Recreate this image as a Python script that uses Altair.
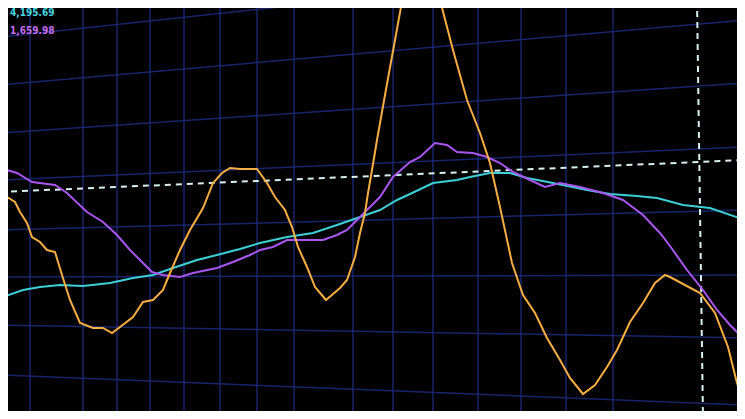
import altair as alt
import pandas as pd

# ---- series (x = time position, y = screen level; smaller y = higher) ----
orange_x = [0, 7, 15, 20, 27, 32, 40, 47, 55, 62, 70, 80, 93, 103, 112, 120, 133, 143, 153, 163,
            170, 180, 190, 203, 213, 222, 230, 240, 257, 267, 275, 285, 292, 298, 307, 315, 326,
            340, 347, 355, 360, 365, 368, 372, 377, 385, 395, 405, 412, 420, 428, 435, 440, 453,
            467, 480, 490, 500, 512, 523, 535, 547, 560, 570, 583, 595, 607, 617, 630, 643, 655,
            665, 670, 700, 715, 728, 737, 745]
orange_y = [193, 197, 202, 212, 223, 237, 242, 250, 252, 275, 300, 323, 328, 328, 333, 327, 317,
            302, 300, 290, 273, 250, 230, 208, 183, 173, 168, 169, 169, 183, 197, 210, 227, 247,
            267, 287, 300, 288, 280, 257, 233, 213, 193, 170, 140, 95, 40, -15, -50, -65, -55,
            -25, 0, 50, 100, 133, 163, 207, 263, 295, 313, 338, 360, 378, 394, 385, 367, 350,
            322, 303, 283, 275, 277, 293, 313, 347, 383, 407]

purple_x = [0, 17, 32, 55, 67, 87, 103, 117, 130, 140, 152, 163, 180, 193, 217, 233, 250, 260,
            273, 287, 307, 323, 337, 347, 355, 367, 380, 393, 410, 420, 435, 447, 457, 473, 487,
            500, 513, 530, 545, 560, 580, 603, 623, 643, 660, 670, 687, 703, 717, 730, 745]
purple_y = [168, 173, 182, 185, 193, 212, 222, 235, 250, 260, 272, 275, 277, 273, 268, 262, 255,
            250, 247, 240, 240, 240, 235, 230, 222, 210, 197, 177, 162, 157, 143, 145, 152, 153,
            157, 163, 172, 180, 187, 183, 187, 193, 200, 215, 233, 246, 270, 290, 310, 325, 340]

cyan_x = [0, 23, 40, 60, 83, 110, 133, 153, 173, 197, 217, 240, 260, 287, 313, 337, 360, 380,
          397, 410, 433, 457, 470, 490, 510, 527, 553, 587, 610, 637, 657, 683, 710, 745]
cyan_y = [298, 290, 287, 285, 286, 283, 278, 275, 268, 260, 255, 249, 243, 237, 233, 225, 217,
          210, 200, 194, 183, 180, 177, 173, 173, 178, 183, 190, 194, 196, 198, 205, 208, 220]

# crosshair (dashed) ends
cross_h = {"x": [0], "x2": [745], "y": [192], "y2": [160]}
cross_v = {"x": [697], "x2": [703], "y": [0], "y2": [419]}

# perspective grid: horizontal lines (left-edge level, right-edge level), vertical line positions
grid_left = [37, 85, 133, 180, 230, 277, 325, 375, 423]
grid_right = [-43, 20, 83, 147, 210, 275, 338, 405, 470]
grid_cols = [30, 83, 117, 150, 184, 220, 257, 294, 353, 393, 433, 478, 521, 566, 613]

labels = ["4,195.69", "1,659.98"]
label_colors = ["#45d6e0", "#c46cf4"]
label_y = [13, 31]

XS = alt.Scale(domain=[8, 737], nice=False, zero=False)
YS = alt.Scale(domain=[8, 411], nice=False, zero=False, reverse=True)

def line_df(xs, ys):
    return pd.DataFrame({"x": xs, "y": ys})

GRID = "#1b2b7c"

hgrid = alt.Chart(pd.DataFrame({
    "x": [0] * len(grid_left), "x2": [745] * len(grid_left),
    "y": grid_left, "y2": grid_right})).mark_rule(
    color=GRID, strokeWidth=1.5, opacity=0.85, clip=True).encode(
    x=alt.X("x:Q", scale=XS, axis=None), x2="x2:Q",
    y=alt.Y("y:Q", scale=YS, axis=None), y2="y2:Q")

vgrid = alt.Chart(pd.DataFrame({"x": grid_cols})).mark_rule(
    color=GRID, strokeWidth=1.5, opacity=0.85).encode(
    x=alt.X("x:Q", scale=XS, axis=None))

def series(xs, ys, color):
    return alt.Chart(line_df(xs, ys)).mark_line(
        color=color, strokeWidth=2, clip=True, interpolate="linear").encode(
        x=alt.X("x:Q", scale=XS, axis=None),
        y=alt.Y("y:Q", scale=YS, axis=None),
        order="x:Q")

cyan = series(cyan_x, cyan_y, "#3ccfd6")
purple = series(purple_x, purple_y, "#a956f0")
orange = series(orange_x, orange_y, "#f6ae42")

ch = alt.Chart(pd.DataFrame(cross_h)).mark_rule(
    color="#d6f1f2", strokeWidth=2, strokeDash=[6, 5], clip=True).encode(
    x=alt.X("x:Q", scale=XS, axis=None), x2="x2:Q",
    y=alt.Y("y:Q", scale=YS, axis=None), y2="y2:Q")
cv = alt.Chart(pd.DataFrame(cross_v)).mark_rule(
    color="#d6f1f2", strokeWidth=2, strokeDash=[6, 5], clip=True).encode(
    x=alt.X("x:Q", scale=XS, axis=None), x2="x2:Q",
    y=alt.Y("y:Q", scale=YS, axis=None), y2="y2:Q")

txt = alt.Chart(pd.DataFrame({"t": labels, "c": label_colors, "y": label_y,
                              "x": [10, 10]})).mark_text(
    align="left", baseline="middle", fontSize=10, fontWeight="bold",
    font="Liberation Sans Narrow, DejaVu Sans Condensed, sans-serif").encode(
    x=alt.X("x:Q", scale=XS, axis=None),
    y=alt.Y("y:Q", scale=YS, axis=None),
    text="t:N",
    color=alt.Color("c:N", scale=None))

chart = alt.layer(hgrid, vgrid, ch, cv, cyan, purple, orange, txt).properties(
    width=729, height=403, padding=0, background="#000000",
    autosize=alt.AutoSizeParams(type="none")
).configure_view(stroke=None, fill="#000000")

chart.save("out.html", embed_options={"renderer": "svg", "actions": False})
